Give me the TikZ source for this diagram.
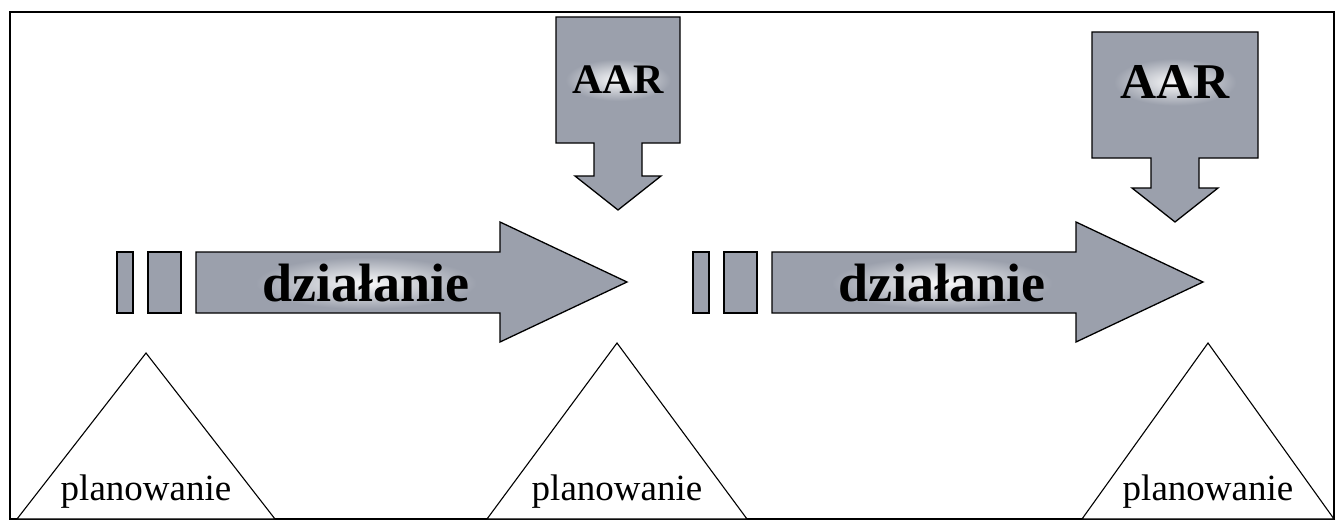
\documentclass[tikz,border=0pt]{standalone}
\usepackage{fontspec}
\setmainfont{Liberation Serif}
\definecolor{stipple}{RGB}{155,160,172}
\tikzset{
  stipple box/.style={fill=stipple,draw=black,line width=1.3pt,line join=miter},
  plan box/.style={draw=black,line width=1.1pt,fill=white},
  glow/.style={inner color=white!95!stipple,outer color=stipple,inner sep=7pt},
  act label/.style={glow,font=\bfseries\fontsize{54}{54}\selectfont},
  plan label/.style={font=\fontsize{37}{37}\selectfont,inner sep=0pt},
}
\newcommand\DrawAction[2]{% #1 = x of the first bar, #2 = node name
  \begin{scope}[xshift=#1]
  \filldraw[stipple box] (0,252) rectangle (16,313);
  \filldraw[stipple box] (31,252) rectangle (64,313);
  \filldraw[stipple box] (79,252) -- (383,252) -- (383,222) -- (510,282)
    -- (383,342) -- (383,313) -- (79,313) -- cycle;
  \node[act label] (#2) at (249,283) {działanie};
  \end{scope}
}
\newcommand\DrawAAR[8][42]{% box with a down arrow
  \pgfmathsetmacro\lft{#3-#4}
  \pgfmathsetmacro\rgt{#3+#4}
  \pgfmathsetmacro\neck{#7-34} % start of the head
  \filldraw[stipple box] (\lft,#5) -- (\rgt,#5) -- (\rgt,#6) -- (#3+24,#6)
    -- (#3+24,\neck) -- (#3+43,\neck) -- (#3,#7) -- (#3-43,\neck)
    -- (#3-24,\neck) -- (#3-24,#6) -- (\lft,#6) -- cycle;
  \node[glow,font=\bfseries\fontsize{#1}{#1}\selectfont] (#2) at (#3,#8) {AAR};
}
\newcommand\DrawPlan[4]{% #1 = name, (#2,#3) = apex, #4 = half base
  \draw[plan box] (#2,#3) -- (#2+#4,519) -- (#2-#4,519) -- cycle;
  \node[plan label,anchor=base] (#1) at (#2,500) {planowanie};
}

\begin{document}
\begin{tikzpicture}[x=1pt,y=-1pt]
\useasboundingbox (0,0) rectangle (1336,527);
\draw[line width=2pt] (10,12) rectangle (1334,519);
% actions
\DrawAction{117}{actA}
\DrawAction{693}{actB}
% reviews
\DrawAAR[42]{aarA}{618}{62}{17}{143}{210}{80}
\DrawAAR[50]{aarB}{1175}{83}{32}{158}{222}{82}
% planning
\DrawPlan{planA}{146}{353}{129}
\DrawPlan{planB}{617}{343}{130}
\DrawPlan{planC}{1208}{343}{126}
\end{tikzpicture}
\end{document}
